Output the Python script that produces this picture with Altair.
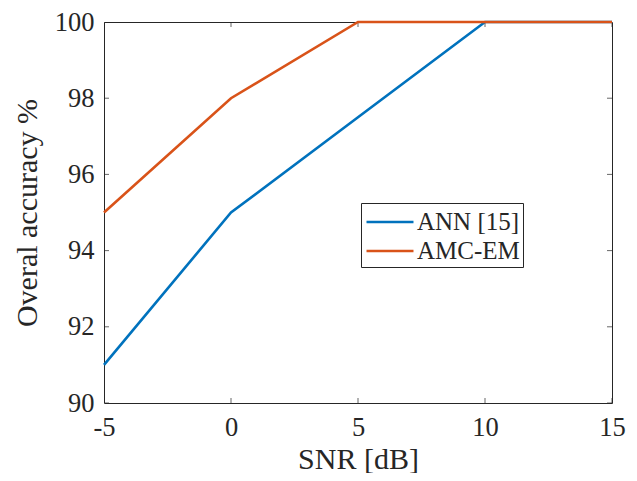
import altair as alt
import pandas as pd

snr = [-5, 0, 5, 10, 15]
ann = [91, 95, 97.5, 100, 100]
amc = [95, 98, 100, 100, 100]
series_names = ["ANN [15]", "AMC-EM"]
series_colors = ["#0072BD", "#D95319"]
xticks = [-5, 0, 5, 10, 15]
yticks = [90, 92, 94, 96, 98, 100]
xdom = [-5, 15]
ydom = [90, 100]

df = pd.DataFrame({
    "snr": snr * 2,
    "acc": ann + amc,
    "series": [series_names[0]] * len(snr) + [series_names[1]] * len(snr),
})

FONT = "Liberation Serif"
INK = "#262626"

xs = alt.Scale(domain=xdom, nice=False, zero=False)
ys = alt.Scale(domain=ydom, nice=False, zero=False)

lines = alt.Chart(df).mark_line(strokeWidth=2.6).encode(
    x=alt.X("snr:Q", scale=xs, title="SNR [dB]",
            axis=alt.Axis(values=xticks, grid=False, domain=False, ticks=False,
                          labelExpr="'' + datum.value", labelFlush=False,
                          labelPadding=11, titleBaseline="alphabetic", titleY=65)),
    y=alt.Y("acc:Q", scale=ys, title="Overal accuracy %",
            axis=alt.Axis(values=yticks, grid=False, domain=False, ticks=False,
                          labelFlush=False,
                          labelPadding=10, titlePadding=12)),
    color=alt.Color("series:N",
                    scale=alt.Scale(domain=series_names, range=series_colors),
                    sort=series_names,
                    legend=alt.Legend(title=None, orient="none", legendX=257, legendY=181,
                                      symbolType="M-1.62,0H1.62", symbolSize=841,
                                      symbolOffset=10,
                                      symbolStrokeWidth=2.6, labelFontSize=25,
                                      labelFont=FONT, labelColor=INK,
                                      strokeColor=INK, fillColor="white",
                                      padding=3, rowPadding=0, labelOffset=11)),
)

xt_df = pd.DataFrame({"x": xticks * 2, "y": [ydom[0]] * len(xticks) + [ydom[1]] * len(xticks)})
yt_df = pd.DataFrame({"x": [xdom[0]] * len(yticks) + [xdom[1]] * len(yticks), "y": yticks * 2})

xt = alt.Chart(xt_df).mark_tick(orient="vertical", size=10, thickness=1, color=INK, clip=True).encode(
    x=alt.X("x:Q", scale=xs), y=alt.Y("y:Q", scale=ys))
yt = alt.Chart(yt_df).mark_tick(orient="horizontal", size=10, thickness=1, color=INK, clip=True).encode(
    x=alt.X("x:Q", scale=xs), y=alt.Y("y:Q", scale=ys))

chart = alt.layer(xt, yt, lines).properties(
    width=508, height=381,
    background="white",
    autosize=alt.AutoSizeParams(type="none"),
    padding={"left": 96, "top": 14, "right": 17, "bottom": 70},
).configure_view(stroke=INK, strokeWidth=1).configure_axis(
    labelFont=FONT, labelFontSize=26.5, labelColor=INK,
    titleFont=FONT, titleFontSize=30, titleColor=INK, titleFontWeight="normal",
)

chart.save("out.html", embed_options={"renderer": "svg", "actions": False})
